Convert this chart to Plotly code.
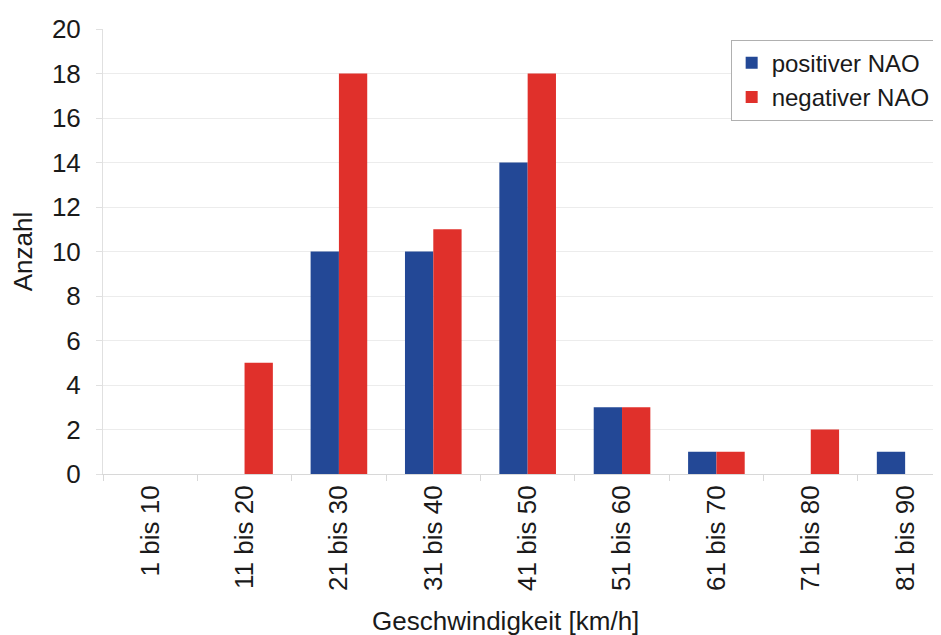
import plotly.graph_objects as go

categories = ["1 bis 10", "11 bis 20", "21 bis 30", "31 bis 40", "41 bis 50",
              "51 bis 60", "61 bis 70", "71 bis 80", "81 bis 90"]
positiver = [0, 0, 10, 10, 14, 3, 1, 0, 1]
negativer = [0, 5, 18, 11, 18, 3, 1, 2, 0]

FONT = "Liberation Sans, Arial, Helvetica, sans-serif"
BLUE = "#234896"
RED = "#E0302B"
FS = 26

fig = go.Figure()
fig.add_trace(go.Bar(x=categories, y=positiver, name="positiver NAO",
                     marker=dict(color=BLUE, line=dict(width=0))))
fig.add_trace(go.Bar(x=categories, y=negativer, name="negativer NAO",
                     marker=dict(color=RED, line=dict(width=0))))

# page body has an 8px margin, so the figure is 933x627 inside the 941x635 window
fig.update_layout(
    width=933, height=627,
    margin=dict(l=95, r=0, t=21, b=161, autoexpand=False),
    paper_bgcolor="white", plot_bgcolor="white",
    font=dict(family=FONT, size=FS, color="#1a1a1a"),
    barmode="group", bargap=0.4, bargroupgap=0,
    showlegend=True,
    legend=dict(x=0.749, y=0.976, xanchor="left", yanchor="top",
                bgcolor="white", bordercolor="#b0b0b0", borderwidth=1,
                font=dict(size=24, family=FONT), itemwidth=30,
                tracegroupgap=0),
)
fig.update_xaxes(
    type="category", range=[-0.5, 8.38], automargin=False,
    tickangle=-90, ticks="outside", ticklen=6, tickcolor="#d8d8d8",
    tickson="boundaries", showline=True, linecolor="#d8d8d8", linewidth=1,
    showgrid=False, tickfont=dict(size=FS, family=FONT, color="#1a1a1a"),
)
fig.update_yaxes(
    range=[0, 20], dtick=2, showgrid=True, gridcolor="#ececec", gridwidth=1,
    zeroline=False, showline=True, linecolor="#e0e0e0", automargin=False,
    ticks="outside", ticklen=6, tickcolor="#e0e0e0",
    ticklabelstandoff=10,
    tickfont=dict(size=FS, family=FONT, color="#1a1a1a"),
    title=dict(text="Anzahl", font=dict(size=FS, family=FONT), standoff=14),
)
fig.add_annotation(text="Geschwindigkeit [km/h]", xref="paper", yref="paper",
                   x=0.48, y=-0.331, xanchor="center", yanchor="middle",
                   showarrow=False, font=dict(size=FS, family=FONT, color="#1a1a1a"))

fig.write_html("out.html")
